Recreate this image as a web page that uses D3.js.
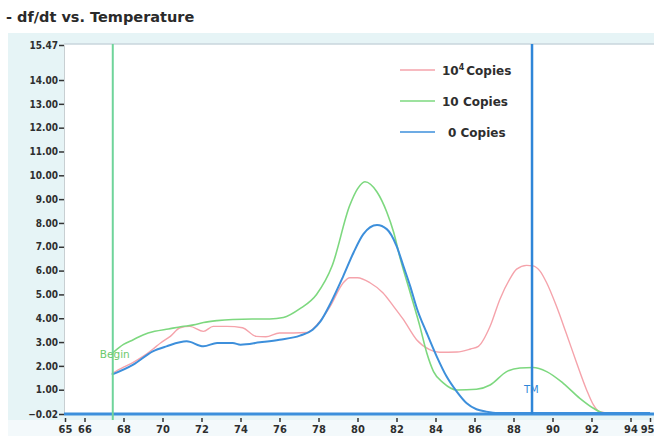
<!DOCTYPE html>
<html>
<head>
<meta charset="utf-8">
<script src="https://cdn.jsdelivr.net/npm/d3@7"></script>
<style>
  body { margin: 0; background: #fff; }
  svg { display: block; font-family: "DejaVu Sans", sans-serif; }
</style>
</head>
<body>
<div id="chart"></div>
<script>
// Chart data
var copies4Temp = [67.4, 68.0, 68.5, 69.0, 69.5, 69.9, 70.4, 70.9, 71.4, 72.1, 72.6, 73.3, 74.1, 74.8, 75.3, 76.0, 76.7, 77.4, 78.0, 78.6, 79.27, 79.6, 80.0, 80.64, 81.3, 81.84, 82.35, 83.03, 83.7, 84.2, 85.1, 85.8, 86.2, 86.8, 87.3, 87.8, 88.16, 88.67, 89.0, 89.36, 89.7, 90.2, 90.7, 91.24, 91.75, 92.1, 92.4, 93.0, 94.0, 95.0];
var copies4Df = [1.68, 1.95, 2.15, 2.4, 2.7, 2.96, 3.24, 3.6, 3.66, 3.45, 3.66, 3.66, 3.6, 3.24, 3.22, 3.38, 3.38, 3.4, 3.8, 4.5, 5.49, 5.7, 5.7, 5.49, 5.07, 4.51, 3.95, 3.1, 2.68, 2.57, 2.58, 2.71, 2.82, 3.66, 4.79, 5.63, 6.06, 6.22, 6.2, 5.98, 5.49, 4.51, 3.38, 2.12, 0.99, 0.36, 0.08, 0.02, 0.01, 0.01];

var copies10Temp = [67.45, 68.0, 68.5, 69.0, 69.6, 70.3, 71.0, 71.6, 72.1, 72.8, 73.6, 74.6, 75.5, 76.2, 77.05, 77.9, 78.7, 79.6, 80.0, 80.38, 81.0, 81.5, 81.85, 82.2, 82.7, 83.2, 83.55, 83.9, 84.4, 85.1, 86.1, 86.8, 87.65, 88.33, 89.0, 89.7, 90.55, 91.4, 92.1, 92.6, 93.5, 95.0];
var copies10Df = [2.55, 2.9, 3.1, 3.3, 3.45, 3.55, 3.65, 3.72, 3.82, 3.9, 3.95, 3.97, 3.97, 4.03, 4.4, 5.0, 6.2, 8.73, 9.43, 9.73, 9.3, 8.46, 7.62, 6.48, 5.08, 3.66, 2.55, 1.76, 1.29, 0.99, 1.02, 1.2, 1.76, 1.91, 1.93, 1.76, 1.27, 0.64, 0.22, 0.03, 0.01, 0.01];

var copies0Temp = [67.4, 68.5, 69.5, 70.2, 71.24, 72.1, 72.8, 73.6, 74.0, 75.0, 76.0, 77.05, 77.7, 78.1, 78.6, 79.27, 79.8, 80.3, 81.0, 81.5, 82.0, 82.35, 82.7, 83.05, 83.55, 84.06, 84.57, 85.09, 85.6, 86.1, 86.6, 87.2, 95.0];
var copies0Df = [1.63, 2.05, 2.61, 2.82, 3.03, 2.82, 2.96, 2.96, 2.89, 2.99, 3.1, 3.27, 3.52, 3.87, 4.6, 5.77, 6.76, 7.53, 7.91, 7.74, 7.04, 6.2, 5.35, 4.4, 3.38, 2.4, 1.55, 0.92, 0.43, 0.18, 0.08, 0.02, 0.02];

var seriesNames = ["10⁴ Copies", "10 Copies", "0 Copies"];
var seriesColors = ["#f5a3ab", "#7dd87f", "#3d8fdb"];

var yTicks = [15.47, 14, 13, 12, 11, 10, 9, 8, 7, 6, 5, 4, 3, 2, 1, -0.02];
var xTicks = [65, 66, 68, 70, 72, 74, 76, 78, 80, 82, 84, 86, 88, 90, 92, 94, 95];
var beginTemp = 67.45;
var tmTemp = 88.95;

// SVG area
var svgWidth = 654;
var svgHeight = 436;

var plot = { left: 64, right: 654, top: 45, bottom: 414 };

var svg = d3.select("#chart")
    .append("svg")
    .attr("width", svgWidth)
    .attr("height", svgHeight);

// light panel behind axes
svg.append("rect")
    .attr("x", 8).attr("y", 33)
    .attr("width", svgWidth - 8).attr("height", 390)
    .attr("fill", "#e6f4f6");
svg.append("rect")
    .attr("x", 8).attr("y", 420)
    .attr("width", svgWidth - 8).attr("height", 16)
    .attr("fill", "#f3f9fb");
svg.append("rect")
    .attr("x", plot.left).attr("y", plot.top - 1)
    .attr("width", plot.right - plot.left).attr("height", plot.bottom - plot.top + 1)
    .attr("fill", "#ffffff");

// title
svg.append("text")
    .attr("x", 6).attr("y", 22)
    .attr("font-size", 14.5).attr("font-weight", "bold")
    .attr("fill", "#2a2a2a")
    .text("- df/dt vs. Temperature");

var x = d3.scaleLinear().domain([65, 95]).range([65, 650]);
var y = d3.scaleLinear().domain([-0.02, 15.47]).range([plot.bottom, plot.top]);

// frame lines
svg.append("line")
    .attr("x1", plot.left).attr("x2", plot.right)
    .attr("y1", plot.top - 1).attr("y2", plot.top - 1)
    .attr("stroke", "#c9d6dc").attr("stroke-width", 1.5);

var yAxis = d3.axisLeft(y)
    .tickValues(yTicks)
    .tickFormat(d3.format(".2f"))
    .tickSize(5).tickPadding(1);

var yAxisG = svg.append("g")
    .attr("transform", `translate(${plot.left},0)`)
    .call(yAxis);
yAxisG.select(".domain").attr("stroke", "#c8cfd2");
yAxisG.selectAll(".tick line").attr("stroke", "#333").attr("stroke-width", 1.5);
yAxisG.selectAll(".tick text")
    .attr("fill", "#2e2e2e")
    .attr("font-size", 10)
    .attr("font-weight", "bold")
    .attr("font-family", "DejaVu Sans Condensed, DejaVu Sans, sans-serif");

var xAxis = d3.axisBottom(x)
    .tickValues(xTicks)
    .tickFormat(d3.format("d"))
    .tickSize(4).tickPadding(3);

var xAxisG = svg.append("g")
    .attr("transform", `translate(0,${plot.bottom + 4})`)
    .call(xAxis);
xAxisG.select(".domain").remove();
xAxisG.selectAll(".tick line").attr("stroke", "#333").attr("stroke-width", 1.5);
xAxisG.selectAll(".tick text")
    .attr("fill", "#2e2e2e")
    .attr("font-size", 11)
    .attr("font-weight", "bold")
    .attr("font-family", "DejaVu Sans Condensed, DejaVu Sans, sans-serif");
// last label sits at the right edge
xAxisG.selectAll(".tick text")
    .filter(d => d === 95)
    .attr("text-anchor", "end")
    .attr("x", 4);

// curves
var series = [
    { name: seriesNames[0], temp: copies4Temp, df: copies4Df, color: seriesColors[0], w: 1.4 },
    { name: seriesNames[1], temp: copies10Temp, df: copies10Df, color: seriesColors[1], w: 1.6 },
    { name: seriesNames[2], temp: copies0Temp, df: copies0Df, color: seriesColors[2], w: 2 }
];

var line = d3.line()
    .x(d => x(d[0]))
    .y(d => y(d[1]))
    .curve(d3.curveMonotoneX);

svg.selectAll(".curve")
    .data(series)
    .enter()
    .append("path")
        .attr("class", "curve")
        .attr("fill", "none")
        .attr("stroke", d => d.color)
        .attr("stroke-width", d => d.w)
        .attr("d", d => line(d.temp.map((t, i) => [t, d.df[i]])));

// baseline along the bottom
svg.append("line")
    .attr("x1", plot.left).attr("x2", plot.right)
    .attr("y1", y(-0.02)).attr("y2", y(-0.02))
    .attr("stroke", "#3b8fdc").attr("stroke-width", 3);

// Begin marker
svg.append("line")
    .attr("x1", x(beginTemp)).attr("x2", x(beginTemp))
    .attr("y1", plot.top - 1).attr("y2", plot.bottom + 6)
    .attr("stroke", "#6fd49a").attr("stroke-width", 2);
svg.append("text")
    .attr("x", x(beginTemp) + 2).attr("y", y(2.5) + 4)
    .attr("text-anchor", "middle")
    .attr("font-size", 10.5).attr("fill", "#6cc96c")
    .text("Begin");

// TM marker
svg.append("line")
    .attr("x1", x(tmTemp)).attr("x2", x(tmTemp))
    .attr("y1", plot.top - 1).attr("y2", plot.bottom)
    .attr("stroke", "#2f86d8").attr("stroke-width", 2.5);
svg.append("text")
    .attr("x", x(tmTemp) - 8).attr("y", y(0.85))
    .attr("font-size", 10).attr("fill", "#2f86d8")
    .text("TM");

// legend
var legend = svg.append("g").attr("transform", "translate(400,70)");
var item = legend.selectAll("g")
    .data(series)
    .enter()
    .append("g")
        .attr("transform", (d, i) => `translate(0,${i * 31})`);
item.append("line")
    .attr("x1", 0).attr("x2", 35)
    .attr("stroke", d => d.color).attr("stroke-width", 1.5);
item.append("text")
    .attr("x", 42).attr("y", 5)
    .attr("font-size", 12).attr("font-weight", "bold")
    .attr("fill", "#2e2e2e")
    .each(function(d) {
        var t = d3.select(this);
        if (d.name.indexOf("⁴") > -1) {
            t.append("tspan").text("10");
            t.append("tspan").attr("dy", -5).attr("font-size", 8).text("4");
            t.append("tspan").attr("dy", 5).attr("dx", 2).text("Copies");
        } else if (d.name === "0 Copies") {
            t.attr("x", 48).text(d.name);
        } else {
            t.text(d.name);
        }
    });
</script>
</body>
</html>
